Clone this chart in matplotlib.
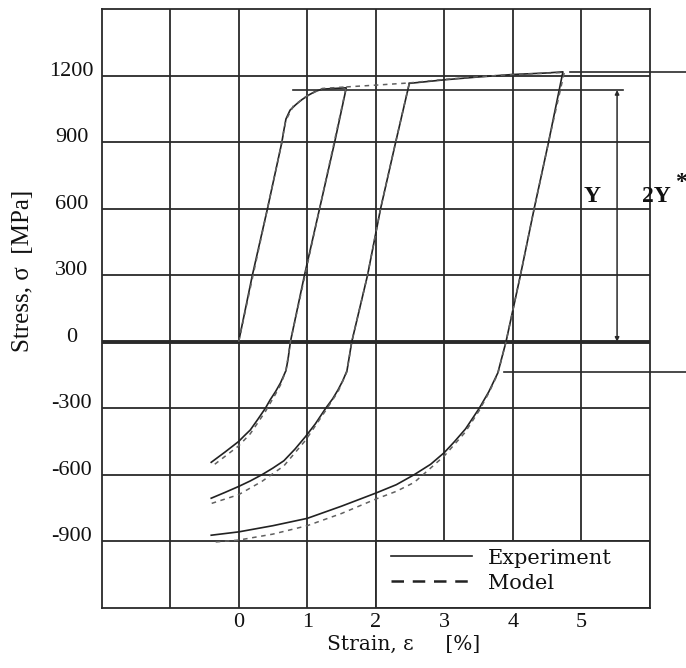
import matplotlib
matplotlib.use("Agg")
import matplotlib.pyplot as plt
from matplotlib.lines import Line2D
from matplotlib.patches import Rectangle

plt.rcParams['axes.unicode_minus'] = False

# ---------------- data (strain in %, stress in MPa) ----------------
exp1_strain = [0, 0.2, 0.42, 0.63, 0.66, 0.69, 0.75, 0.83, 0.92, 1.02, 1.12, 1.22, 1.57,
               1.40, 1.18, 0.96, 0.755, 0.72, 0.69, 0.61, 0.54, 0.46, 0.39, 0.28, 0.17,
               0.08, 0, -0.2, -0.4]
exp1_stress = [0, 300, 600, 900, 955, 1005, 1045, 1069, 1092, 1113, 1130, 1140, 1146,
               900, 600, 300, 0, -80, -130, -186, -224, -262, -300, -350, -398,
               -425, -450, -498, -544]

exp2_strain = [2.49, 2.29, 2.07, 1.88, 1.65, 1.58, 1.52, 1.45, 1.37, 1.27, 1.12, 0.975,
               0.82, 0.66, 0.5, 0.34, 0.17, 0, -0.2, -0.4]
exp2_stress = [1166, 900, 600, 300, 0, -131, -175, -217, -258, -300, -370, -428,
               -485, -537, -570, -600, -628, -653, -680, -706]

exp3_strain = [2.49, 3.0, 3.5, 4.0, 4.5, 4.73, 4.52, 4.31, 4.11, 3.9, 3.78, 3.65,
               3.51, 3.31, 3.15, 3.0, 2.8, 2.56, 2.3, 2.0, 1.5, 1.0, 0.5, 0, -0.4]
exp3_stress = [1166, 1182, 1195, 1206, 1213, 1218, 900, 600, 300, 0, -141, -225,
               -300, -393, -450, -500, -553, -600, -645, -683, -742, -797, -830, -858, -873]

mod1_strain = [0, 0.63, 0.66, 0.69, 0.8, 1.0, 1.22, 1.57, 0.755, 0.69, 0.61, 0.54, 0.39,
               0.17, 0, -0.4]
mod1_stress = [0, 900, 955, 1000, 1065, 1110, 1143, 1150, 0, -130, -195, -235, -315,
               -415, -470, -565]

mod2_strain = [1.57, 2.0, 2.49, 2.29, 2.07, 1.88, 1.65, 1.58, 1.45, 1.27, 0.975, 0.66,
               0.34, 0, -0.4]
mod2_stress = [1150, 1158, 1168, 900, 600, 300, 0, -135, -225, -310, -445, -560,
               -630, -690, -730]

mod3_strain = [2.49, 3.0, 3.5, 4.0, 4.5, 4.75, 4.52, 4.31, 4.11, 3.9, 3.78, 3.65,
               3.51, 3.3, 3.0, 2.8, 2.56, 2.3, 2.0, 1.5, 1.0, 0.5, 0, -0.4]
mod3_stress = [1168, 1184, 1196, 1206, 1212, 1215, 900, 600, 300, 0, -145, -230,
               -310, -410, -515, -570, -635, -675, -710, -775, -830, -868, -895, -905]

# reference levels
Y_level = 1136
Y_line_strain = [0.79, 5.6]
top_level = 1218
top_line_strain = [4.83, 6.52]
low_level = -135
low_line_strain = [3.87, 6.52]
arrow_strain = 5.52

x_ticks = [-1, 0, 1, 2, 3, 4, 5]
x_tick_labels = ['', '0', '1', '2', '3', '4', '5']
y_ticks = [-900, -600, -300, 0, 300, 600, 900, 1200]
y_tick_labels = ['-900', '-600', '-300', '0', '300', '600', '900', '1200']

legend_labels = ['Experiment', 'Model']

# ---------------- figure ----------------
fig = plt.figure(figsize=(6.86, 6.68), dpi=100)
ax = fig.add_axes([0.148, 0.0903, 0.7995, 0.8957])

ink = '#2a2a2a'
txt = '#111111'
ax.set_xlim(-2, 6)
ax.set_ylim(-1200, 1500)

ax.set_xticks(x_ticks)
ax.set_xticklabels(x_tick_labels, family='Liberation Serif', fontsize=16)
ax.set_yticks(y_ticks)
ax.set_yticklabels(y_tick_labels, family='Liberation Serif', fontsize=16)
ax.tick_params(axis='both', length=0, labelcolor=txt)
ax.tick_params(axis='x', pad=3.5)
ax.tick_params(axis='y', pad=21.4)
for lbl in ax.get_yticklabels():
    lbl.set_ha('center')
    lbl.set_va('baseline')

ax.grid(True, color=ink, lw=1.3)
ax.set_axisbelow(True)
for sp in ax.spines.values():
    sp.set_color(ink)
    sp.set_linewidth(1.3)

ax.axhline(0, color=ink, lw=2.8, zorder=1.8)

exp_kw = dict(color='#222222', lw=1.2, zorder=3)
mod_kw = dict(color='#606060', lw=1.1, ls=(0, (3, 3)), zorder=3.2)
for xs, ys in [(exp1_strain, exp1_stress), (exp2_strain, exp2_stress), (exp3_strain, exp3_stress)]:
    ax.plot(xs, ys, **exp_kw)
for xs, ys in [(mod1_strain, mod1_stress), (mod2_strain, mod2_stress), (mod3_strain, mod3_stress)]:
    ax.plot(xs, ys, **mod_kw)

# reference lines
ax.plot(Y_line_strain, [Y_level, Y_level], color=ink, lw=1.2, zorder=3)
ax.plot(top_line_strain, [top_level, top_level], color=ink, lw=1.2, zorder=3, clip_on=False)
ax.plot(low_line_strain, [low_level, low_level], color=ink, lw=1.2, zorder=3, clip_on=False)
ax.annotate('', xy=(arrow_strain, 0), xytext=(arrow_strain, Y_level),
            arrowprops=dict(arrowstyle='<|-|>', color=ink, lw=1.1,
                            mutation_scale=6, shrinkA=0, shrinkB=0), zorder=3)
ax.text(5.15, 655, 'Y', family='Liberation Serif', fontsize=17, color=txt,
        ha='center', va='center', weight='bold')
ax.text(6.1, 655, '2Y', family='Liberation Serif', fontsize=17, color=txt,
        ha='center', va='center', weight='bold', clip_on=False)
ax.text(6.45, 718, '*', family='Liberation Serif', fontsize=17, color=txt,
        ha='center', va='center', weight='bold', clip_on=False)

# legend box
ax.add_patch(Rectangle((2, -1200), 4, 300, facecolor='white', edgecolor=ink,
                       lw=1.3, zorder=2))
handles = [Line2D([], [], color='#222222', lw=1.2),
           Line2D([], [], color='#222222', lw=1.8, ls=(0, (5, 3.5)))]
ax.legend(handles, legend_labels, loc='center left', bbox_to_anchor=(2.22, -1033),
          bbox_transform=ax.transData, frameon=False, handlelength=3.9,
          handletextpad=0.75, labelspacing=0.28, borderpad=0, borderaxespad=0,
          prop={'family': 'DejaVu Serif', 'size': 15}, labelcolor=txt)

# axis labels
ax.text(-0.1435, 0.563, 'Stress, σ  [MPa]', transform=ax.transAxes, rotation=90,
        family='Liberation Serif', fontsize=18, color=txt, ha='center', va='center')
ax.text(0.55, -0.0607, 'Strain, ε     [%]', transform=ax.transAxes,
        family='DejaVu Serif', fontsize=14.5, color=txt, ha='center', va='center')

fig.savefig('out.png', dpi=100)
